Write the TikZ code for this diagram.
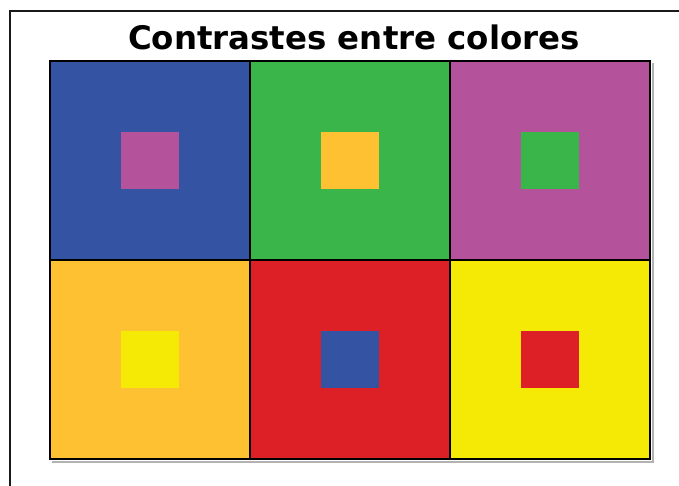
\documentclass[tikz,border=0pt]{standalone}
\usepackage{fontspec}
\setmainfont{DejaVu Sans}
\usepackage{graphicx}
\definecolor{cblue}{HTML}{3453A3}
\definecolor{cmag}{HTML}{B5529C}
\definecolor{cgreen}{HTML}{39B54A}
\definecolor{corange}{HTML}{FDC131}
\definecolor{cred}{HTML}{DD1F26}
\definecolor{cyellow}{HTML}{F5EA06}
\begin{document}
\begin{tikzpicture}[x=1pt,y=-1pt,
  cell/.style={draw=black,line width=1.6pt,minimum width=200pt,minimum height=199pt,inner sep=0pt,outer sep=0pt},
  inner/.style={minimum width=58pt,minimum height=57pt,inner sep=0pt,outer sep=0pt}]
\useasboundingbox (0,0) rectangle (679,486);
\fill[white] (0,0) rectangle (679,486);
\draw[line width=2.2pt,color=black!90] (10,486) -- (10,11) -- (679,11);
\node (title) at (354,37.5) {\resizebox{452pt}{!}{\bfseries Contrastes entre colores}};
% shadow
\fill[black!30] (52,461) rectangle (653,463);
\fill[black!30] (652,63) rectangle (654,463);
\node[cell,fill=cblue,anchor=north west] (c1) at (50,61) {};
\node[cell,fill=cgreen,anchor=north west] (c2) at (250,61) {};
\node[cell,fill=cmag,anchor=north west] (c3) at (450,61) {};
\node[cell,fill=corange,anchor=north west] (c4) at (50,260) {};
\node[cell,fill=cred,anchor=north west] (c5) at (250,260) {};
\node[cell,fill=cyellow,anchor=north west] (c6) at (450,260) {};
\node[inner,fill=cmag] (s1) at (c1.center) {};
\node[inner,fill=corange] (s2) at (c2.center) {};
\node[inner,fill=cgreen] (s3) at (c3.center) {};
\node[inner,fill=cyellow] (s4) at (c4.center) {};
\node[inner,fill=cblue] (s5) at (c5.center) {};
\node[inner,fill=cred] (s6) at (c6.center) {};
\end{tikzpicture}
\end{document}
